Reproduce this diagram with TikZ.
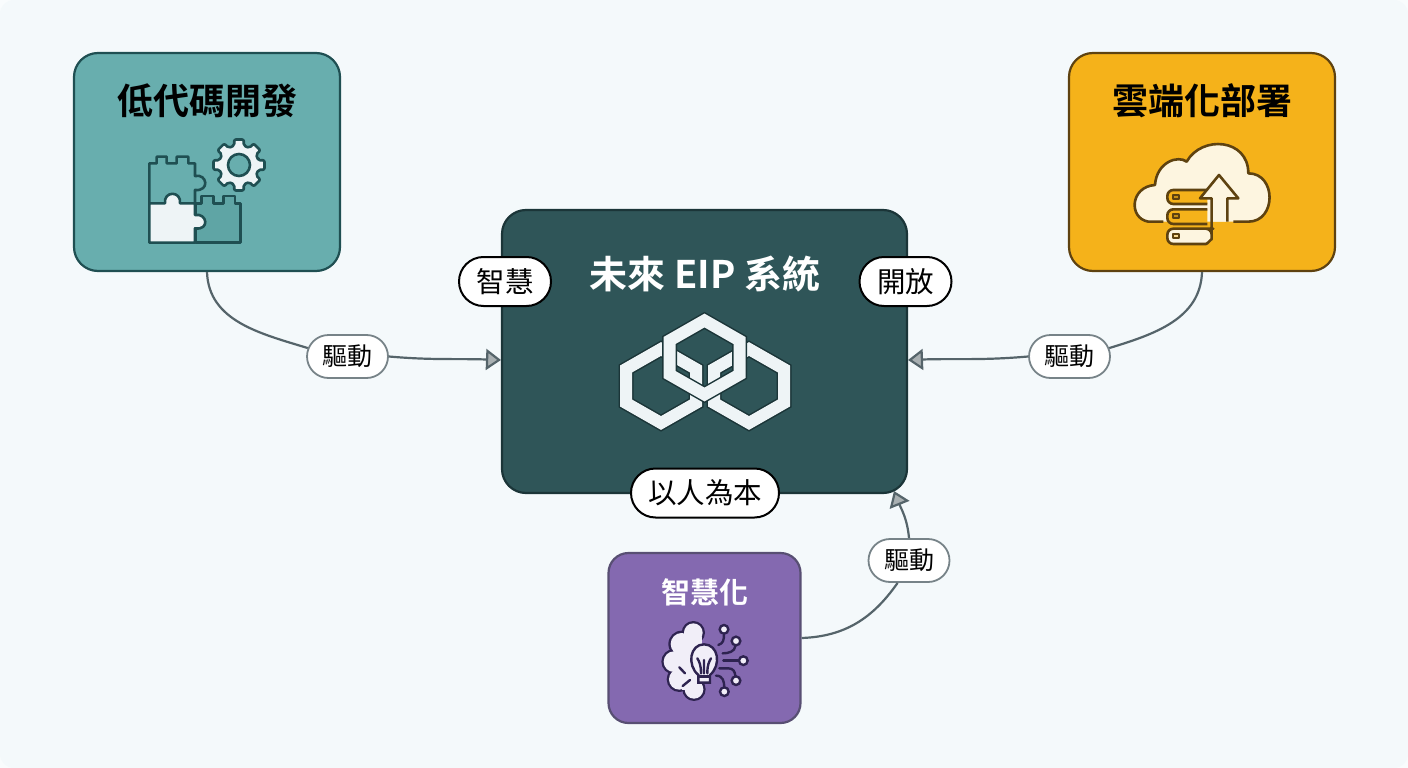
\documentclass[tikz,border=0pt]{standalone}
\usepackage{fontspec}
\setmainfont{Noto Sans CJK TC}
\newfontfamily\cjkbold{Noto Sans CJK TC Bold}
\usetikzlibrary{arrows.meta,shapes.misc}
\definecolor{pagebg}{HTML}{F4F9FB}
\definecolor{tealbox}{HTML}{68AEAE}
\definecolor{tealline}{HTML}{1F4F52}
\definecolor{tealdark}{HTML}{5FA5A5}
\definecolor{corebox}{HTML}{2F5558}
\definecolor{coreline}{HTML}{1B3538}
\definecolor{goldbox}{HTML}{F5B21A}
\definecolor{goldline}{HTML}{5E4210}
\definecolor{cream}{HTML}{FDF5E0}
\definecolor{violetbox}{HTML}{8469B0}
\definecolor{violetline}{HTML}{2E2350}
\definecolor{violetlight}{HTML}{F1EEF8}
\definecolor{iconwhite}{HTML}{EEF4F6}
\definecolor{linkgrey}{HTML}{55646A}
\definecolor{tipgrey}{HTML}{A9B0B2}
\begin{document}
\begin{tikzpicture}[x=1pt,y=-1pt,
    box/.style={rectangle, draw, line width=2.2pt, rounded corners=24pt, inner sep=0pt},
    boxtitle/.style={inner sep=0pt, font=\cjkbold\fontsize{36}{40}\selectfont},
    tag/.style={rounded rectangle, draw=black, line width=2pt, fill=white, inner sep=0pt, minimum height=49pt, font=\fontsize{28.5}{32}\selectfont},
    drive/.style={rounded rectangle, draw=linkgrey!80, line width=1.8pt, fill=white, inner sep=0pt, minimum width=81pt, minimum height=43pt, font=\fontsize{25}{30}\selectfont},
    link/.style={draw=linkgrey, line width=2.2pt},
    arrowlink/.style={link, -{Triangle[length=15pt,width=21pt,fill=tipgrey]}},
    tealicon/.style={draw=tealline, line width=2.6pt, line join=round},
    goldicon/.style={draw=goldline, line width=2.6pt, line join=round},
    violeticon/.style={draw=violetline, line width=2.4pt, line cap=round}
]
\useasboundingbox (0,0) rectangle (1408,768);
\fill[pagebg!50!white] (0,0) rectangle (1408,768);
\fill[pagebg, rounded corners=14pt] (0,0) rectangle (1408,768);

\node[box, draw=tealline, fill=tealbox, minimum width=266pt, minimum height=218pt] (lowcode) at (207,162) {};
\node[box, draw=goldline, fill=goldbox, minimum width=266pt, minimum height=218pt] (cloud) at (1202,162) {};
\node[box, draw=coreline, fill=corebox, minimum width=405pt, minimum height=283pt] (core) at (704.5,351.5) {};
\node[box, draw=violetline!80, fill=violetbox, rounded corners=20pt, minimum width=192pt, minimum height=170pt] (smart) at (704.5,638) {};

\node[boxtitle] (lowtitle) at (207,101) {低代碼開發};
\node[boxtitle] (cloudtitle) at (1202,101) {雲端化部署};
\node[boxtitle, text=white, font=\cjkbold\fontsize{38}{42}\selectfont] (coretitle) at (705,274) {未來 EIP 系統};
\node[boxtitle, text=white, font=\cjkbold\fontsize{29}{34}\selectfont] (smarttitle) at (704.5,592) {智慧化};

\node[tag, minimum width=92pt] (wisdom) at (505,281.5) {智慧};
\node[tag, minimum width=92pt] (open) at (905.5,281.5) {開放};
\node[tag, minimum width=148pt] (human) at (705,493) {以人為本};

\node[drive] (driveleft) at (347.5,356.5) {驅動};
\node[drive] (driveright) at (1069.5,356.5) {驅動};
\node[drive] (drivebottom) at (909,560.5) {驅動};

\coordinate (coreleft) at (501,360);
\coordinate (coreright) at (908,360);
\coordinate (corebottom) at (894,491);

\draw[link] (lowcode.south) to[out=-88,in=163] (driveleft.168);
\draw[arrowlink] (driveleft.east) to[out=-5,in=178] (coreleft);
\draw[link] (cloud.south) to[out=-92,in=17] (driveright.12);
\draw[arrowlink] (driveright.west) to[out=185,in=2] (coreright);
\draw[link] (smart.east) to[out=2,in=235] (drivebottom.243);
\draw[arrowlink] (drivebottom.north) to[out=95,in=-68] (corebottom);

% puzzle and gear
\begin{scope}[shift={(120,120)},scale=0.3333]
\draw[tealicon] (88,250) -- (88,130) -- (110,130) -- (110,110) -- (140,110) -- (140,130) -- (170,130) -- (170,110) -- (205,110) -- (205,130) -- (225,130) -- (225,168)
  .. controls (262,160) and (270,215) .. (225,210) -- (225,250) -- cycle;
\draw[tealicon, fill=tealdark] (227,250) -- (245,250) -- (245,228) -- (280,228) -- (280,250) -- (310,250) -- (310,228) -- (345,228) -- (345,250) -- (362,250) -- (362,368) -- (227,368) -- cycle;
\draw[tealicon, fill=iconwhite] (88,250) -- (135,250) .. controls (130,212) and (185,212) .. (180,250) -- (225,250) -- (225,285)
  .. controls (262,278) and (270,332) .. (225,325) -- (225,368) -- (88,368) -- cycle;
\draw[tealicon, fill=iconwhite, rounded corners=2pt] (357,135) ++(-13:60)
  \foreach \a in {0,45,...,315} { -- ([shift={(357,135)}]\a-13:60) -- ([shift={(357,135)}]\a-11:78) -- ([shift={(357,135)}]\a+11:78) -- ([shift={(357,135)}]\a+13:60) } -- cycle;
\draw[tealicon, fill=tealbox] (357,135) circle[radius=33];
\end{scope}

% cloud and server
\begin{scope}[shift={(1120,130)},scale=0.3333]
\fill[cream] (130,275) -- (85,275) .. controls (25,265) and (30,170) .. (105,165) .. controls (110,95) and (175,75) .. (200,95)
  .. controls (245,15) and (385,25) .. (385,130) .. controls (470,130) and (470,275) .. (385,275) -- cycle;
\draw[goldicon] (130,275) -- (85,275) .. controls (25,265) and (30,170) .. (105,165) .. controls (110,95) and (175,75) .. (200,95)
  .. controls (245,15) and (385,25) .. (385,130) .. controls (470,130) and (470,275) .. (385,275) -- (340,275);
\draw[goldicon, fill=goldbox, rounded corners=6pt] (262,180) -- (142,180) -- (142,222) -- (262,222);
\draw[goldicon, fill=goldbox, rounded corners=6pt] (262,238) -- (142,238) -- (142,282) -- (262,282);
\draw[goldicon, fill=cream, rounded corners=6pt] (262,296) -- (142,296) -- (142,342) -- (240,342) .. controls (262,342) and (275,325) .. (275,310) -- (275,296) -- cycle;
\fill[cream] (240,205) -- (297,135) -- (355,205) -- (322,205) -- (322,275) -- (275,275) -- (275,205) -- cycle;
\draw[goldicon] (275,300) -- (275,205) -- (240,205) -- (297,135) -- (355,205) -- (322,205) -- (322,275);
\draw[goldicon, line width=1.8pt, fill=goldbox!70!goldline] (160,195) rectangle (178,207);
\draw[goldicon, line width=1.8pt, fill=goldbox!70!goldline] (160,253) rectangle (178,265);
\draw[goldicon, line width=1.8pt, fill=goldbox!40!cream] (160,311) rectangle (178,323);
\end{scope}

% brain and bulb
\begin{scope}[shift={(640,610)},scale=0.3333]
\foreach \x/\y/\r in {160/68/35,125/102/40,102/155/38,118/208/38,162/238/35}
  \fill[violetline] (\x,\y) circle[radius=\r];
\foreach \x/\y/\r in {160/68/28,125/102/33,102/155/31,118/208/31,162/238/28}
  \fill[violetlight] (\x,\y) circle[radius=\r];
\fill[violetlight] (125,80) rectangle (185,240);
\draw[violeticon] (118,172) -- (135,190) (150,210) -- (128,228);
\draw[violeticon, fill=violetlight] (175,218) -- (175,195) .. controls (140,165) and (150,103) .. (192,103)
  .. controls (235,103) and (245,165) .. (210,195) -- (210,218) -- cycle;
\draw[violeticon] (183,190) .. controls (183,165) and (178,155) .. (172,145) (202,190) .. controls (202,165) and (207,155) .. (213,145) (192,190) -- (192,150);
\draw[violeticon] (178,200) -- (207,200);
\draw[violeticon] (235,105) .. controls (250,100) and (252,90) .. (252,72);
\draw[violeticon] (248,130) .. controls (265,130) and (285,125) .. (286,108);
\draw[violeticon] (250,152) -- (295,152);
\draw[violeticon] (238,175) -- (265,175) .. controls (280,175) and (285,185) .. (286,198);
\draw[violeticon] (228,197) .. controls (250,197) and (252,215) .. (253,232);
\foreach \x/\y in {252/58,288/93,310/152,288/212,253/245}
  \draw[violeticon, fill=violetlight] (\x,\y) circle[radius=13];
\end{scope}

% linked hexagons
\tikzset{hexring/.pic={
  \draw[coreline, line width=15pt, line join=miter] (0,-37) -- (35,-17) -- (35,17) -- (0,37) -- (-35,17) -- (-35,-17) -- cycle;
  \draw[iconwhite, line width=12pt, line join=miter] (0,-37) -- (35,-17) -- (35,17) -- (0,37) -- (-35,17) -- (-35,-17) -- cycle;
}}
\pic at (661,386) {hexring};
\pic at (749,386) {hexring};
\pic at (704.5,357.5) {hexring};
\end{tikzpicture}
\end{document}
